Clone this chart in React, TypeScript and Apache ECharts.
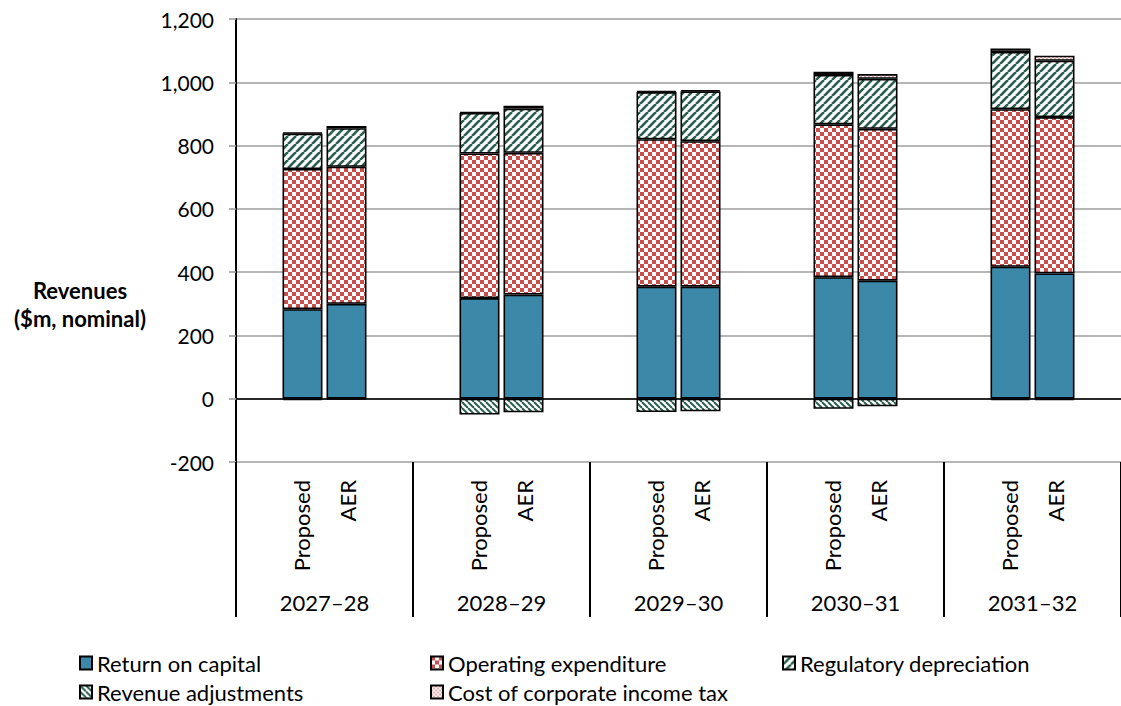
import React, { useEffect, useRef } from 'react';
import * as echarts from 'echarts';

// Financial years on the category axis and the two revenue cases per year
const years = ['2027–28', '2028–29', '2029–30', '2030–31', '2031–32'];
const scenarios = ['Proposed', 'AER'];

// Building-block components, bottom to top of each stack
const components = [
  'Return on capital',
  'Operating expenditure',
  'Regulatory depreciation',
  'Revenue adjustments',
  'Cost of corporate income tax',
];

// Proposed revenues ($m, nominal)
const proposedReturn = [283, 318, 354, 384, 417];
const proposedOpex = [443, 457, 466, 483, 498];
const proposedDepreciation = [112, 128, 149, 156, 181];
const proposedAdjustments = [-5, -50, -42, -32, -5];
const proposedTax = [3, 3, 3, 10, 11];

// AER revenues ($m, nominal)
const aerReturn = [300, 329, 354, 373, 396];
const aerOpex = [433, 448, 460, 480, 494];
const aerDepreciation = [122, 140, 157, 158, 178];
const aerAdjustments = [-2, -43, -40, -24, -4];
const aerTax = [7, 9, 4, 15, 16];

// Value axis range
const yMin = -200;
const yMax = 1200;
const yStep = 200;

const FONT = 'Lato, "Open Sans", sans-serif';

type Drawer = (ctx: CanvasRenderingContext2D, s: number) => void;

function tile(size: number, draw: Drawer) {
  const c = document.createElement('canvas');
  c.width = size;
  c.height = size;
  const ctx = c.getContext('2d') as CanvasRenderingContext2D;
  ctx.fillStyle = '#ffffff';
  ctx.fillRect(0, 0, size, size);
  draw(ctx, size);
  return { image: c, repeat: 'repeat' };
}

function checker(color: string, size: number) {
  return tile(size, (ctx, s) => {
    ctx.fillStyle = color;
    ctx.fillRect(0, 0, s / 2, s / 2);
    ctx.fillRect(s / 2, s / 2, s / 2, s / 2);
  });
}

function stripes(color: string, size: number, width: number, forward: boolean) {
  return tile(size, (ctx, s) => {
    ctx.strokeStyle = color;
    ctx.lineWidth = width;
    for (let k = -1; k <= 1; k++) {
      ctx.beginPath();
      if (forward) {
        ctx.moveTo(k * s, s);
        ctx.lineTo(k * s + s, 0);
      } else {
        ctx.moveTo(k * s, 0);
        ctx.lineTo(k * s + s, s);
      }
      ctx.stroke();
    }
  });
}

export default function App() {
  const ref = useRef<HTMLDivElement>(null);

  useEffect(() => {
    if (!ref.current) return;
    const chart = echarts.init(ref.current, undefined, { renderer: 'svg' });

    const fills: any[] = [
      '#3b88a8',
      checker('#c94f4f', 8),
      stripes('#2c5f50', 8, 2.6, true),
      stripes('#2c5f50', 6, 2, false),
      checker('#eeaaaa', 4),
    ];

    const stacks = [
      {
        stack: scenarios[0],
        values: [proposedReturn, proposedOpex, proposedDepreciation, proposedAdjustments, proposedTax],
      },
      {
        stack: scenarios[1],
        values: [aerReturn, aerOpex, aerDepreciation, aerAdjustments, aerTax],
      },
    ];

    const series: any[] = [];
    stacks.forEach((s, si) => {
      components.forEach((name, i) => {
        const item: any = {
          type: 'bar',
          name,
          stack: s.stack,
          data: s.values[i],
          barWidth: 40,
          barGap: '10%',
          itemStyle: { color: fills[i], borderColor: '#000', borderWidth: 1.6 },
          emphasis: { disabled: true },
        };
        if (si === 0 && i === 0) {
          item.markLine = {
            silent: true,
            symbol: 'none',
            label: { show: false },
            lineStyle: { color: '#000', width: 1.6, type: 'solid' },
            data: [{ yAxis: 0 }],
          };
        }
        series.push(item);
      });
    });

    const legendCommon = {
      orient: 'vertical',
      top: 652,
      padding: 0,
      icon: 'rect',
      itemWidth: 12,
      itemHeight: 13,
      itemGap: 7,
      selectedMode: false,
      textStyle: { fontFamily: FONT, fontSize: 22, color: '#000', lineHeight: 22 },
    };

    chart.setOption({
      animation: false,
      backgroundColor: '#ffffff',
      grid: { left: 236, right: -5, top: 19, bottom: 244, containLabel: false },
      xAxis: [
        {
          type: 'category',
          data: years,
          position: 'bottom',
          axisLine: { show: true, lineStyle: { color: '#9e9e9e', width: 1.6 } },
          axisTick: { show: false },
          axisLabel: {
            interval: 0,
            rotate: 90,
            margin: 18,
            formatter: () => scenarios.join('\n'),
            lineHeight: 46,
            fontFamily: FONT,
            fontSize: 22,
            color: '#000',
          },
        },
        {
          type: 'category',
          data: years,
          position: 'bottom',
          axisLine: { show: false },
          axisTick: {
            show: true,
            interval: 0,
            length: 155,
            lineStyle: { color: '#000', width: 2 },
          },
          axisLabel: {
            interval: 0,
            margin: 129,
            fontFamily: FONT,
            fontSize: 22,
            lineHeight: 22,
            color: '#000',
          },
        },
      ],
      yAxis: {
        type: 'value',
        min: yMin,
        max: yMax,
        interval: yStep,
        axisLine: { show: true, lineStyle: { color: '#000', width: 2 } },
        axisTick: { show: true, length: 7, lineStyle: { color: '#9e9e9e', width: 1.6 } },
        splitLine: { show: true, lineStyle: { color: '#9e9e9e', width: 1.6 } },
        axisLabel: {
          margin: 22,
          fontFamily: FONT,
          fontSize: 21,
          color: '#000',
          formatter: (v: number) => v.toLocaleString('en-US'),
        },
      },
      legend: [
        { ...legendCommon, left: 79, data: [components[0], components[3]] },
        { ...legendCommon, left: 430, data: [components[1], components[4]] },
        { ...legendCommon, left: 782, data: [components[2]] },
      ],
      graphic: [
        {
          type: 'text',
          x: 80,
          y: 304,
          style: {
            text: 'Revenues\n($m, nominal)',
            fontFamily: FONT,
            fontSize: 22,
            fontWeight: 'bold',
            lineHeight: 28,
            align: 'center',
            verticalAlign: 'middle',
            fill: '#000',
          },
        },
      ],
      series,
    });

    return () => chart.dispose();
  }, []);

  return (
    <div
      ref={ref}
      style={{ position: 'absolute', left: 0, top: 0, width: 1121, height: 706, background: '#fff' }}
    />
  );
}
